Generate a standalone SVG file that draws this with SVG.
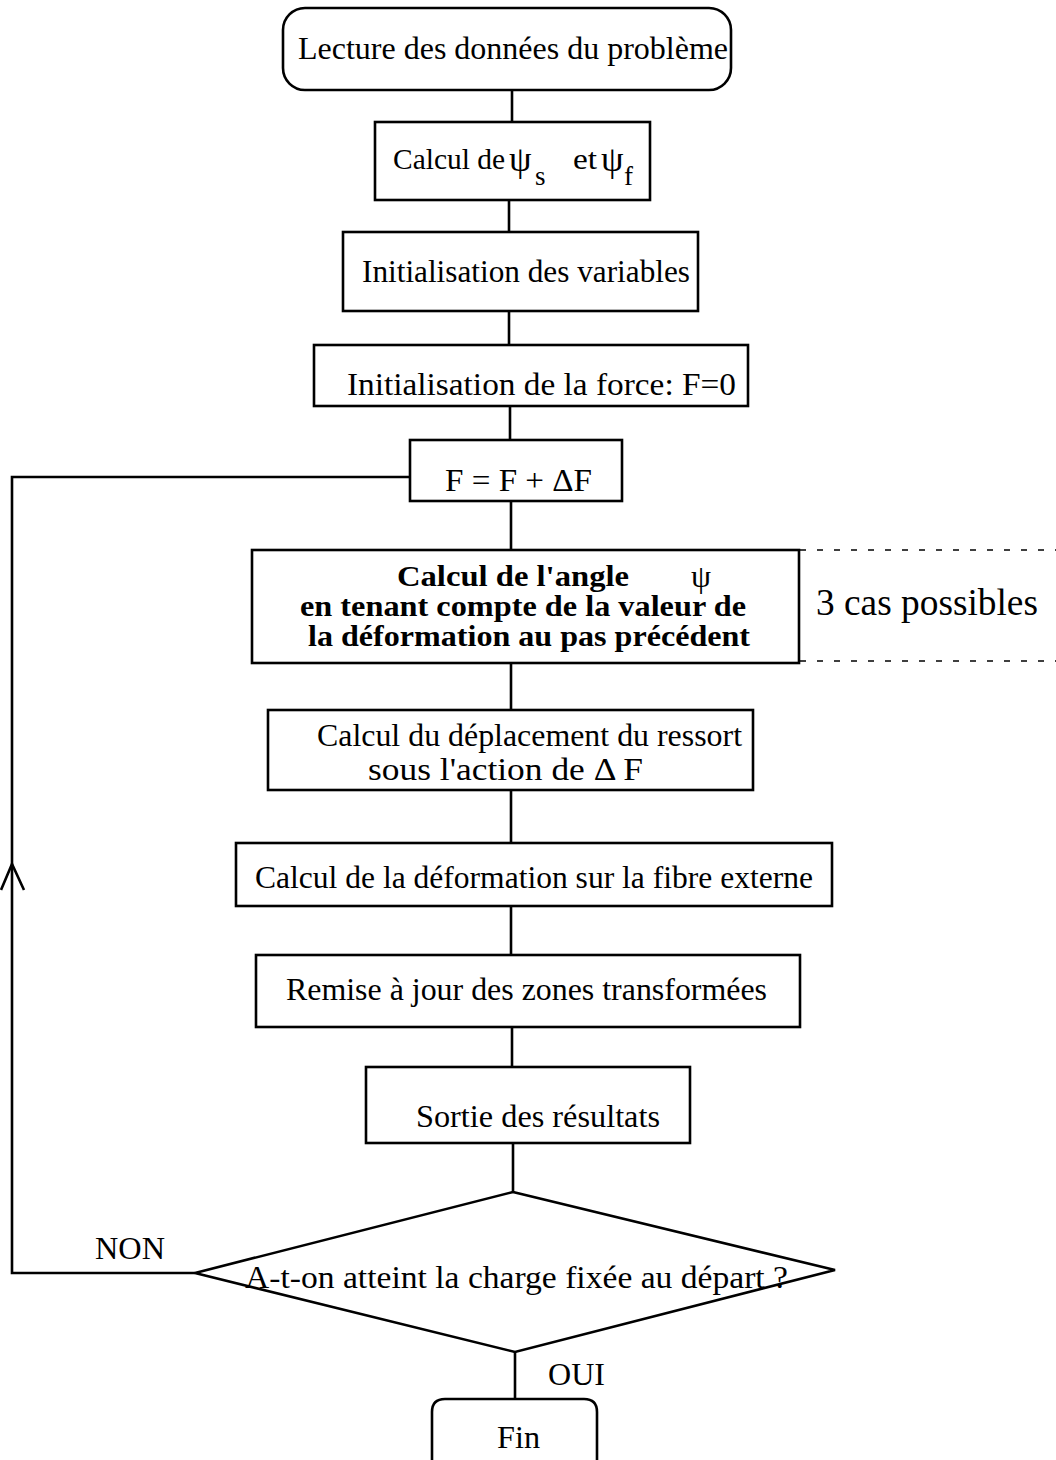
<svg xmlns="http://www.w3.org/2000/svg" width="1056" height="1460" viewBox="0 0 1056 1460">
<defs>
<style>
.b{fill:#fff;stroke:#000;stroke-width:2.6}
.c{fill:none;stroke:#000;stroke-width:2.6}
.t{font-family:"Liberation Serif","Times New Roman",serif;font-size:31px;fill:#000}
.bd{font-weight:bold;font-size:29px}
.d{fill:none;stroke:#000;stroke-width:1.5;stroke-dasharray:6 11}
</style>
</defs>
<rect width="1056" height="1460" fill="#fff"/>
<g id="connectors">
<line class="c" x1="512" y1="90" x2="512" y2="122"/>
<line class="c" x1="509" y1="200" x2="509" y2="232"/>
<line class="c" x1="509" y1="311" x2="509" y2="345"/>
<line class="c" x1="510" y1="406" x2="510" y2="440"/>
<line class="c" x1="511" y1="501" x2="511" y2="550"/>
<line class="c" x1="511" y1="663" x2="511" y2="710"/>
<line class="c" x1="511" y1="790" x2="511" y2="843"/>
<line class="c" x1="511" y1="906" x2="511" y2="955"/>
<line class="c" x1="512" y1="1027" x2="512" y2="1067"/>
<line class="c" x1="513" y1="1143" x2="513" y2="1192"/>
<line class="c" x1="515" y1="1352" x2="515" y2="1400"/>
<polyline class="c" points="195,1273 12,1273 12,477 410,477"/>
<polyline class="c" points="1,890 12,864 24,890"/>
<line class="d" x1="800" y1="550" x2="1056" y2="550"/>
<line class="d" x1="800" y1="661" x2="1056" y2="661"/>
<text class="t" x="95" y="1259" style="font-size:32px" textLength="70" lengthAdjust="spacingAndGlyphs">NON</text>
<text class="t" x="548" y="1385" style="font-size:32px" textLength="57" lengthAdjust="spacingAndGlyphs">OUI</text>
</g>
<g id="n1">
<rect class="b" x="283" y="8" width="448" height="82" rx="22"/>
<text class="t" x="298" y="59" style="font-size:32px" textLength="430" lengthAdjust="spacingAndGlyphs">Lecture des données du problème</text>
</g>
<g id="n2">
<rect class="b" x="375" y="122" width="275" height="78"/>
<text class="t" x="393" y="169" style="font-size:30px" textLength="112" lengthAdjust="spacingAndGlyphs">Calcul de</text>
<text class="t" x="509" y="171" style="font-size:36px">ψ</text>
<text class="t" x="535" y="185" style="font-size:27px">s</text>
<text class="t" x="573" y="169" style="font-size:30px" textLength="24" lengthAdjust="spacingAndGlyphs">et</text>
<text class="t" x="601" y="171" style="font-size:36px">ψ</text>
<text class="t" x="624" y="185" style="font-size:27px">f</text>
</g>
<g id="n3">
<rect class="b" x="343" y="232" width="355" height="79"/>
<text class="t" x="362" y="282" textLength="328" lengthAdjust="spacingAndGlyphs">Initialisation des variables</text>
</g>
<g id="n4">
<rect class="b" x="314" y="345" width="434" height="61"/>
<text class="t" x="347" y="395" textLength="389" lengthAdjust="spacingAndGlyphs">Initialisation de la force: F=0</text>
</g>
<g id="n5">
<rect class="b" x="410" y="440" width="212" height="61"/>
<text class="t" x="445" y="491" textLength="147" lengthAdjust="spacingAndGlyphs">F = F + ΔF</text>
</g>
<g id="n6">
<rect class="b" x="252" y="550" width="547" height="113"/>
<text class="t bd" x="397" y="586" textLength="232" lengthAdjust="spacingAndGlyphs">Calcul de l'angle</text>
<text class="t" x="691" y="587" style="font-size:32px">ψ</text>
<text class="t bd" x="300" y="616" textLength="446" lengthAdjust="spacingAndGlyphs">en tenant compte de la valeur de</text>
<text class="t bd" x="308" y="646" textLength="442" lengthAdjust="spacingAndGlyphs">la déformation au pas précédent</text>
</g>
<g id="note">
<text class="t" x="816" y="615" style="font-size:37px" textLength="222" lengthAdjust="spacingAndGlyphs">3 cas possibles</text>
</g>
<g id="n7">
<rect class="b" x="268" y="710" width="485" height="80"/>
<text class="t" x="317" y="746" textLength="425" lengthAdjust="spacingAndGlyphs">Calcul du déplacement du ressort</text>
<text class="t" x="368" y="780" textLength="275" lengthAdjust="spacingAndGlyphs">sous l'action de Δ F</text>
</g>
<g id="n8">
<rect class="b" x="236" y="843" width="596" height="63"/>
<text class="t" x="255" y="888" textLength="558" lengthAdjust="spacingAndGlyphs">Calcul de la déformation sur la fibre externe</text>
</g>
<g id="n9">
<rect class="b" x="256" y="955" width="544" height="72"/>
<text class="t" x="286" y="1000" textLength="481" lengthAdjust="spacingAndGlyphs">Remise à jour des zones transformées</text>
</g>
<g id="n10">
<rect class="b" x="366" y="1067" width="324" height="76"/>
<text class="t" x="416" y="1127" textLength="244" lengthAdjust="spacingAndGlyphs">Sortie des résultats</text>
</g>
<g id="n11">
<polygon class="b" points="513,1192 835,1270 515,1352 195,1273"/>
<text class="t" x="245" y="1288" style="font-size:32px" textLength="543" lengthAdjust="spacingAndGlyphs">A-t-on atteint la charge fixée au départ ?</text>
</g>
<g id="n12">
<path class="b" d="M432,1462 L432,1412 Q432,1399 445,1399 L584,1399 Q597,1399 597,1412 L597,1462"/>
<text class="t" x="497" y="1448" style="font-size:32px" textLength="43" lengthAdjust="spacingAndGlyphs">Fin</text>
</g>
</svg>
